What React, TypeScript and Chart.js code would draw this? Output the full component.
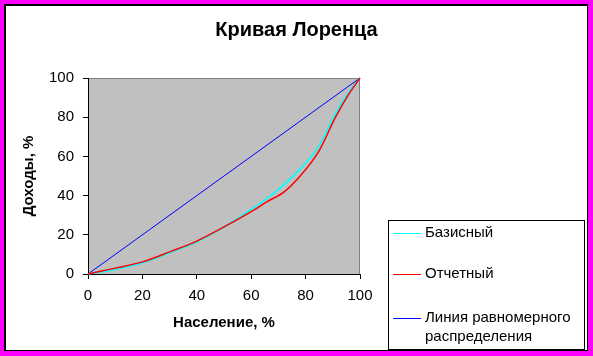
import React, { useEffect, useRef } from "react";
import { Chart, registerables } from "chart.js";

Chart.register(...registerables);

// ---- data ----
const populationPct = [0, 10, 20, 30, 40, 50, 60, 66, 72, 78, 85, 91, 96, 100];
const incomeBase = [0, 2.3, 5.7, 10.8, 16.5, 24, 33, 38.7, 45.5, 53.5, 65.5, 82, 93, 100];
const incomeReport = [0, 3, 6.2, 11.3, 16.8, 24, 31.8, 37, 41.8, 50, 63, 80, 92, 100];
const equalityX = [0, 100];
const equalityY = [0, 100];
const axisTicks = [0, 20, 40, 60, 80, 100];
const seriesLabels = ["Базисный", "Отчетный", "Линия равномерного распределения"];
const seriesColors = ["#00FFFF", "#FF0000", "#0000FF"];
const titleText = "Кривая Лоренца";
const xTitleText = "Население, %";
const yTitleText = "Доходы, %";

const FONT = "'Liberation Sans', Arial, sans-serif";

const toPoints = (xs: number[], ys: number[]) => xs.map((x, i) => ({ x, y: ys[i] }));

const decorPlugin = {
  id: "decor",
  beforeDraw(chart: any) {
    const { ctx, chartArea } = chart;
    const { left, top, right, bottom } = chartArea;
    ctx.save();
    ctx.fillStyle = "#C0C0C0";
    ctx.fillRect(left, top, right - left, bottom - top);
    ctx.strokeStyle = "#808080";
    ctx.lineWidth = 1;
    ctx.beginPath();
    ctx.moveTo(left, top + 0.5);
    ctx.lineTo(right, top + 0.5);
    ctx.moveTo(right - 0.5, top);
    ctx.lineTo(right - 0.5, bottom);
    ctx.stroke();
    ctx.restore();
  },
  afterDraw(chart: any) {
    const { ctx } = chart;
    ctx.save();
    // title
    ctx.fillStyle = "#000";
    ctx.font = `bold 20px ${FONT}`;
    ctx.textAlign = "center";
    ctx.textBaseline = "middle";
    ctx.fillText(titleText, 296.5, 30);

    // legend box
    const bx = 388, by = 220, bw = 197, bh = 130;
    ctx.fillStyle = "#FFFFFF";
    ctx.fillRect(bx, by, bw, bh);
    ctx.strokeStyle = "#000";
    ctx.lineWidth = 1;
    ctx.strokeRect(bx + 0.5, by + 0.5, bw - 1, bh - 1);

    ctx.font = `15px ${FONT}`;
    ctx.textAlign = "left";
    ctx.textBaseline = "middle";
    const rowsY = [233, 274, 318];
    chart.data.datasets.forEach((ds: any, i: number) => {
      const y = rowsY[i];
      ctx.strokeStyle = ds.borderColor;
      ctx.lineWidth = 1;
      ctx.beginPath();
      ctx.moveTo(393, y + 0.5);
      ctx.lineTo(421, y + 0.5);
      ctx.stroke();
      ctx.fillStyle = "#000";
      const words = String(ds.label).split(" ");
      const lines: string[] = [];
      let cur = "";
      words.forEach((w) => {
        const test = cur ? cur + " " + w : w;
        if (ctx.measureText(test).width > 158 && cur) {
          lines.push(cur);
          cur = w;
        } else cur = test;
      });
      if (cur) lines.push(cur);
      lines.forEach((ln, k) => ctx.fillText(ln, 425, y + k * 19));
    });
    ctx.restore();
  },
};

export default function App() {
  const canvasRef = useRef<HTMLCanvasElement | null>(null);

  useEffect(() => {
    document.body.style.margin = "0";
    const canvas = canvasRef.current;
    if (!canvas) return;
    const chart = new Chart(canvas, {
      type: "scatter",
      data: {
        datasets: [
          {
            label: seriesLabels[0],
            data: toPoints(populationPct, incomeBase),
            borderColor: seriesColors[0],
            backgroundColor: seriesColors[0],
            borderWidth: 1.6,
            showLine: true,
            pointRadius: 0,
            cubicInterpolationMode: "monotone",
            order: 2,
            clip: 4,
          },
          {
            label: seriesLabels[1],
            data: toPoints(populationPct, incomeReport),
            borderColor: seriesColors[1],
            backgroundColor: seriesColors[1],
            borderWidth: 1.5,
            showLine: true,
            pointRadius: 0,
            cubicInterpolationMode: "monotone",
            order: 1,
            clip: 4,
          },
          {
            label: seriesLabels[2],
            data: toPoints(equalityX, equalityY),
            borderColor: seriesColors[2],
            backgroundColor: seriesColors[2],
            borderWidth: 1,
            showLine: true,
            pointRadius: 0,
            order: 3,
            clip: 4,
          },
        ],
      },
      options: {
        animation: false,
        responsive: false,
        devicePixelRatio: 1,
        layout: { padding: { left: 0, top: 78, right: 233, bottom: 0 } },
        plugins: {
          legend: { display: false },
          title: { display: false },
          tooltip: { enabled: false },
        },
        scales: {
          x: {
            type: "linear",
            min: 0,
            max: 100,
            afterBuildTicks: (s: any) => {
              s.ticks = axisTicks.map((v) => ({ value: v }));
            },
            afterFit: (s: any) => {
              s.height = 82;
            },
            grid: { drawOnChartArea: false, tickLength: 5, color: "#000" },
            border: { color: "#000", width: 1 },
            ticks: { color: "#000", padding: 8, font: { family: FONT, size: 15 }, maxRotation: 0 },
            title: {
              display: true,
              text: xTitleText,
              color: "#000",
              font: { family: FONT, size: 15, weight: "bold" },
              padding: { top: 0, bottom: 24 },
            },
          },
          y: {
            type: "linear",
            min: 0,
            max: 100,
            afterBuildTicks: (s: any) => {
              s.ticks = axisTicks.map((v) => ({ value: v }));
            },
            afterFit: (s: any) => {
              s.width = 88;
            },
            grid: { drawOnChartArea: false, tickLength: 5, color: "#000" },
            border: { color: "#000", width: 1 },
            ticks: { color: "#000", padding: 9, font: { family: FONT, size: 15 } },
            title: {
              display: true,
              text: yTitleText,
              color: "#000",
              font: { family: FONT, size: 15, weight: "bold" },
              padding: { top: 20, bottom: 0 },
            },
          },
        },
      },
      plugins: [decorPlugin],
    });
    return () => chart.destroy();
  }, []);

  return (
    <div style={{ position: "relative", width: 593, height: 356, background: "#FF00FF", overflow: "hidden" }}>
      <div
        style={{
          position: "absolute",
          left: 4,
          top: 4,
          width: 584,
          height: 347,
          boxSizing: "border-box",
          background: "#FFFFFF",
          borderTop: "2px solid #000",
          borderLeft: "2px solid #000",
          borderRight: "1px solid #000",
          borderBottom: "1px solid #000",
        }}
      />
      <canvas ref={canvasRef} width={593} height={356} style={{ position: "absolute", left: 0, top: 0 }} />
    </div>
  );
}
